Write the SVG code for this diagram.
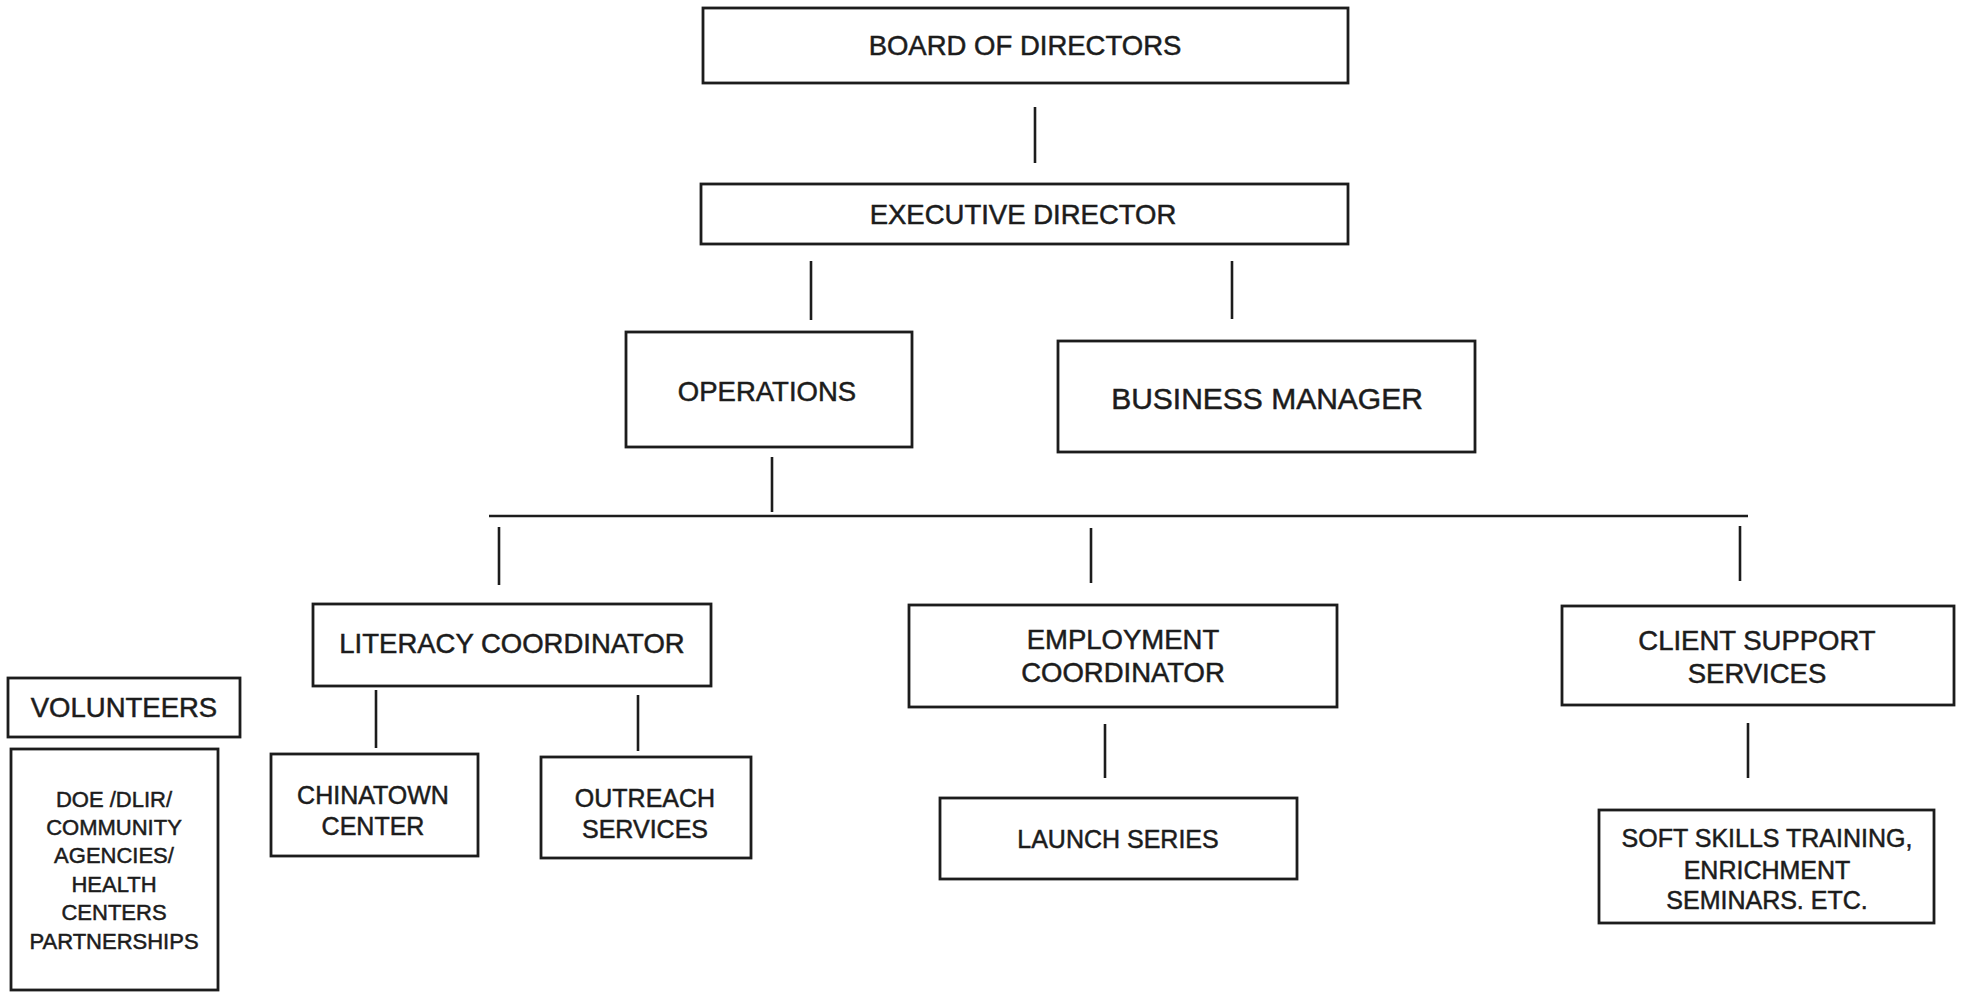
<svg xmlns="http://www.w3.org/2000/svg" width="1965" height="992" viewBox="0 0 1965 992">
<style>
.box{fill:#fff;stroke:#1c1c1c;stroke-width:2.8}
.ln{stroke:#1c1c1c;stroke-width:2.6;fill:none}
text{font-family:"Liberation Sans",Arial,sans-serif;fill:#1c1c1c;stroke:#1c1c1c;stroke-width:0.5;text-anchor:middle}
.t{font-size:27.5px}
.tb{font-size:30px}
.ts{font-size:25px}
.tx{font-size:22px}
</style>
<rect width="1965" height="992" fill="#fff"/>
<g id="connectors">
<line class="ln" x1="1035" y1="107" x2="1035" y2="163"/>
<line class="ln" x1="811" y1="261" x2="811" y2="320"/>
<line class="ln" x1="1232" y1="261" x2="1232" y2="319"/>
<line class="ln" x1="772" y1="457" x2="772" y2="512"/>
<line class="ln" x1="489" y1="516" x2="1748" y2="516"/>
<line class="ln" x1="499" y1="527" x2="499" y2="585"/>
<line class="ln" x1="1091" y1="528" x2="1091" y2="583"/>
<line class="ln" x1="1740" y1="526" x2="1740" y2="581"/>
<line class="ln" x1="376" y1="690" x2="376" y2="748"/>
<line class="ln" x1="638" y1="695" x2="638" y2="751"/>
<line class="ln" x1="1105" y1="724" x2="1105" y2="778"/>
<line class="ln" x1="1748" y1="723" x2="1748" y2="778"/>
</g>
<g id="board">
<rect class="box" x="703" y="8" width="645" height="75"/>
<text class="t" x="1025" y="55">BOARD OF DIRECTORS</text>
</g>
<g id="executive">
<rect class="box" x="701" y="184" width="647" height="60"/>
<text class="t" x="1023" y="224">EXECUTIVE DIRECTOR</text>
</g>
<g id="operations">
<rect class="box" x="626" y="332" width="286" height="115"/>
<text class="t" x="767" y="401">OPERATIONS</text>
</g>
<g id="business">
<rect class="box" x="1058" y="341" width="417" height="111"/>
<text class="tb" x="1267" y="409">BUSINESS MANAGER</text>
</g>
<g id="literacy">
<rect class="box" x="313" y="604" width="398" height="82"/>
<text class="t" x="512" y="653">LITERACY COORDINATOR</text>
</g>
<g id="employment">
<rect class="box" x="909" y="605" width="428" height="102"/>
<text class="t" x="1123" y="649">EMPLOYMENT</text>
<text class="t" x="1123" y="682">COORDINATOR</text>
</g>
<g id="client">
<rect class="box" x="1562" y="606" width="392" height="99"/>
<text class="t" x="1757" y="650">CLIENT SUPPORT</text>
<text class="t" x="1757" y="683">SERVICES</text>
</g>
<g id="volunteers">
<rect class="box" x="8" y="678" width="232" height="59"/>
<text class="t" x="124" y="717">VOLUNTEERS</text>
</g>
<g id="partnerships">
<rect class="box" x="11" y="749" width="207" height="241"/>
<text class="tx" x="114" y="807">DOE /DLIR/</text>
<text class="tx" x="114" y="835">COMMUNITY</text>
<text class="tx" x="114" y="863">AGENCIES/</text>
<text class="tx" x="114" y="892">HEALTH</text>
<text class="tx" x="114" y="920">CENTERS</text>
<text class="tx" x="114" y="949">PARTNERSHIPS</text>
</g>
<g id="chinatown">
<rect class="box" x="271" y="754" width="207" height="102"/>
<text class="ts" x="373" y="804">CHINATOWN</text>
<text class="ts" x="373" y="835">CENTER</text>
</g>
<g id="outreach">
<rect class="box" x="541" y="757" width="210" height="101"/>
<text class="ts" x="645" y="807">OUTREACH</text>
<text class="ts" x="645" y="838">SERVICES</text>
</g>
<g id="launch">
<rect class="box" x="940" y="798" width="357" height="81"/>
<text class="ts" x="1118" y="848">LAUNCH SERIES</text>
</g>
<g id="softskills">
<rect class="box" x="1599" y="810" width="335" height="113"/>
<text class="ts" x="1767" y="847">SOFT SKILLS TRAINING,</text>
<text class="ts" x="1767" y="879">ENRICHMENT</text>
<text class="ts" x="1767" y="909">SEMINARS. ETC.</text>
</g>
</svg>
